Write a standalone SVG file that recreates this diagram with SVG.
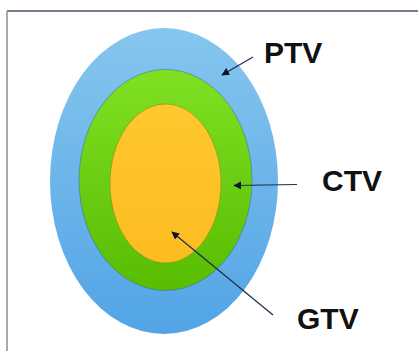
<svg xmlns="http://www.w3.org/2000/svg" width="419" height="351" viewBox="0 0 419 351">
<style>
.lbl{font-family:"Liberation Sans",Arial,sans-serif;font-weight:bold;font-size:30px;fill:#111}
.arr{stroke:#1f2a4a;stroke-width:1.2;fill:none;marker-end:url(#ah)}
</style>
<defs>
<marker id="ah" viewBox="0 0 10 10" refX="9" refY="5" markerWidth="8" markerHeight="8" orient="auto" markerUnits="userSpaceOnUse">
<path d="M0,0 L10,5 L0,10 z" fill="#0d1530"/>
</marker>
<linearGradient id="gb" x1="0" y1="0" x2="0" y2="1">
<stop offset="0" stop-color="#86c6ee"/>
<stop offset="1" stop-color="#52a4e6"/>
</linearGradient>
<linearGradient id="gg" x1="0" y1="0" x2="0" y2="1">
<stop offset="0" stop-color="#80e024"/>
<stop offset="1" stop-color="#58bc00"/>
</linearGradient>
<linearGradient id="gy" x1="0" y1="0" x2="0" y2="1">
<stop offset="0" stop-color="#ffc82e"/>
<stop offset="1" stop-color="#fcbc20"/>
</linearGradient>
</defs>
<rect width="419" height="351" fill="#ffffff"/>
<line x1="7" y1="11" x2="418" y2="11" stroke="#4a5068" stroke-width="1.5"/>
<line x1="7" y1="11" x2="7" y2="351" stroke="#8a8f9a" stroke-width="1.5"/>
<g id="ptv">
<ellipse cx="164" cy="181" rx="114" ry="153" fill="url(#gb)"/>
<text class="lbl" x="264" y="63">PTV</text>
</g>
<g id="ctv">
<ellipse cx="165.5" cy="180" rx="86.5" ry="110.5" fill="url(#gg)" stroke="#2a6aa8" stroke-width="1" stroke-opacity="0.5"/>
<text class="lbl" x="322" y="191">CTV</text>
</g>
<g id="gtv">
<ellipse cx="165.5" cy="183.5" rx="55.5" ry="79.5" fill="url(#gy)" stroke="#6a8a10" stroke-width="1" stroke-opacity="0.5"/>
<text class="lbl" x="297" y="329">GTV</text>
</g>
<g id="connectors">
<line class="arr" x1="253" y1="57" x2="222" y2="75"/>
<line class="arr" x1="297" y1="184.5" x2="234" y2="185.5"/>
<line class="arr" x1="273" y1="315" x2="172" y2="232"/>
</g>
</svg>
